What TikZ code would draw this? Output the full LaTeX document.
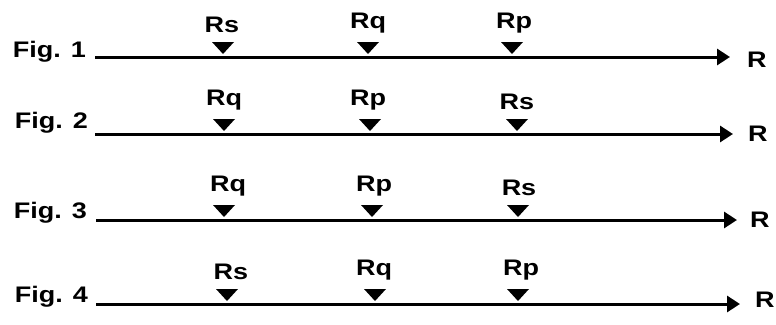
\documentclass[tikz,border=0pt]{standalone}
\usepackage{fontspec}
\setmainfont{Liberation Sans}[FakeStretch=1.2]
\usetikzlibrary{arrows.meta}
\tikzset{
  lbl/.style={font=\bfseries\fontsize{22.5}{22.5}\selectfont, inner sep=0pt, text=black},
  figlbl/.style={lbl, anchor=base east},
  mklbl/.style={lbl, anchor=south},
  rlbl/.style={lbl, anchor=west},
  axisline/.style={line width=3pt, -{Triangle[length=13pt,width=16pt]}},
}
\newcommand\marktri[2]{\fill[black] (#1-11,#2-15) -- (#1+11,#2-15) -- (#1,#2-3) -- cycle;}
\begin{document}
\begin{tikzpicture}[x=1pt,y=-1pt]
\useasboundingbox (0,0) rectangle (776,324);
% Row 1
\node[figlbl] (f1) at (86,57) {Fig. 1};
\coordinate (s1) at (95,57);
\coordinate (e1) at (730,57);
\draw[axisline] (s1) -- (e1);
\node[rlbl] (r1) at (747,60) {R};
\marktri{223}{57}\marktri{368}{57}\marktri{512}{57}
\node[mklbl] (a1) at (222,33) {Rs};
\node[mklbl] (b1) at (368,33) {Rq};
\node[mklbl] (c1) at (514,33) {Rp};
% Row 2
\node[figlbl] (f2) at (88,128) {Fig. 2};
\coordinate (s2) at (95,134);
\coordinate (e2) at (733,134);
\draw[axisline] (s2) -- (e2);
\node[rlbl] (r2) at (748,134) {R};
\marktri{224}{134}\marktri{370}{134}\marktri{517}{134}
\node[mklbl] (a2) at (224,110) {Rq};
\node[mklbl] (b2) at (368,110) {Rp};
\node[mklbl] (c2) at (517,110) {Rs};
% Row 3
\node[figlbl] (f3) at (87,218) {Fig. 3};
\coordinate (s3) at (96,220);
\coordinate (e3) at (737,220);
\draw[axisline] (s3) -- (e3);
\node[rlbl] (r3) at (750,220) {R};
\marktri{224}{220}\marktri{372}{220}\marktri{518}{220}
\node[mklbl] (a3) at (228,196) {Rq};
\node[mklbl] (b3) at (374,196) {Rp};
\node[mklbl] (c3) at (519,196) {Rs};
% Row 4
\node[figlbl] (f4) at (88,302) {Fig. 4};
\coordinate (s4) at (96,304);
\coordinate (e4) at (740,304);
\draw[axisline] (s4) -- (e4);
\node[rlbl] (r4) at (755,300) {R};
\marktri{227}{304}\marktri{375}{304}\marktri{518}{304}
\node[mklbl] (a4) at (231,280) {Rs};
\node[mklbl] (b4) at (374,280) {Rq};
\node[mklbl] (c4) at (521,280) {Rp};
\end{tikzpicture}
\end{document}
